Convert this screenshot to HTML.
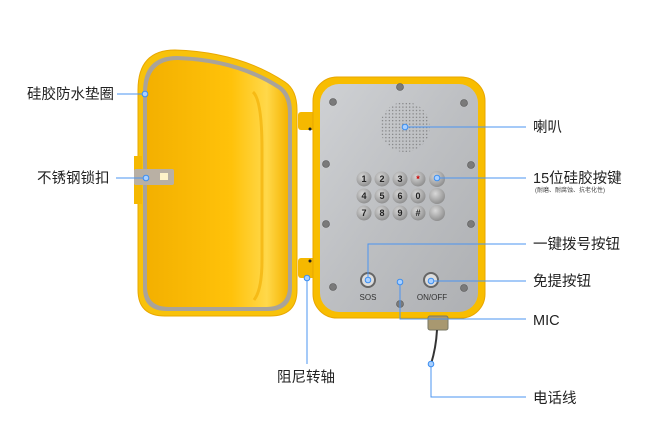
<!DOCTYPE html>
<html><head><meta charset="utf-8"><style>
html,body{margin:0;padding:0;background:#fff;width:650px;height:442px;overflow:hidden}
svg{display:block}
text{font-family:"Liberation Sans","Noto Sans CJK SC",sans-serif}
.l{font-size:14.5px;fill:#222}
</style></head><body>
<svg width="650" height="442" viewBox="0 0 650 442" xmlns="http://www.w3.org/2000/svg">
<defs>
<linearGradient id="steel" x1="0" y1="0" x2="1" y2="1">
<stop offset="0" stop-color="#cfd1d4"/><stop offset="0.5" stop-color="#bdbfc2"/><stop offset="1" stop-color="#aeb0b3"/>
</linearGradient>
<linearGradient id="inner" x1="0" y1="0" x2="1" y2="0">
<stop offset="0" stop-color="#f3b000"/><stop offset="0.6" stop-color="#ffc20a"/><stop offset="0.85" stop-color="#ffd84a"/><stop offset="1" stop-color="#f5b400"/>
</linearGradient>
<radialGradient id="key" cx="0.4" cy="0.35" r="0.7">
<stop offset="0" stop-color="#d8d8d8"/><stop offset="1" stop-color="#8a8a8a"/>
</radialGradient>
<pattern id="holes" width="3.4" height="3.4" patternUnits="userSpaceOnUse">
<circle cx="1.7" cy="1.7" r="0.6" fill="#555"/>
</pattern>
</defs>

<!-- left door -->
<path d="M138,90 Q138,50 175,50 Q240,52 285,82 Q297,90 297,110 L297,290 Q297,316 270,316 L165,316 Q138,316 138,290 Z" fill="#f8c20a" stroke="#e9a800" stroke-width="1"/>
<path d="M143,92 Q143,56 177,56 Q238,58 281,86 Q292,94 292,112 L292,288 Q292,311 268,311 L167,311 Q143,311 143,288 Z" fill="#a9a39a"/>
<path d="M147,94 Q147,60 178,60 Q236,62 278,89 Q288,96 288,114 L288,286 Q288,307 266,307 L169,307 Q147,307 147,286 Z" fill="url(#inner)"/>
<path d="M253,92 Q262,100 262,150 L262,260 Q262,290 254,300" fill="none" stroke="#f0ac00" stroke-width="3" opacity="0.6"/>
<!-- latch -->
<rect x="134" y="156" width="8" height="48" fill="#f5b800"/>
<rect x="134" y="169" width="40" height="16" rx="2" fill="#b9b0a4"/>
<rect x="160" y="173" width="8" height="7" fill="#fff3c8"/>
<!-- hinges -->
<rect x="298" y="112" width="20" height="18" rx="3" fill="#f5b800"/>
<rect x="298" y="258" width="20" height="20" rx="3" fill="#f5b800"/>
<circle cx="310" cy="129" r="1.5" fill="#222"/>
<circle cx="310" cy="261" r="1.5" fill="#222"/>

<!-- right phone -->
<rect x="313" y="77" width="172" height="241" rx="24" fill="#f8bd00" stroke="#e8a600"/>
<rect x="320" y="84" width="158" height="228" rx="19" fill="url(#steel)"/>
<!-- screws -->
<g fill="#7a7a7a" stroke="#555" stroke-width="0.6">
<circle cx="400" cy="87" r="3.5"/><circle cx="333" cy="102" r="3.5"/><circle cx="464" cy="103" r="3.5"/>
<circle cx="326" cy="164" r="3.5"/><circle cx="471" cy="165" r="3.5"/>
<circle cx="326" cy="224" r="3.5"/><circle cx="471" cy="224" r="3.5"/>
<circle cx="333" cy="287" r="3.5"/><circle cx="464" cy="288" r="3.5"/>
<circle cx="400" cy="304" r="3.5"/>
</g>
<!-- speaker -->
<circle cx="405" cy="127" r="25" fill="url(#holes)" opacity="0.8"/>
<!-- keypad -->
<g font-size="9" text-anchor="middle" font-weight="bold" fill="#222">
<g>
<circle cx="364" cy="179" r="7.5" fill="url(#key)"/><circle cx="382" cy="179" r="7.5" fill="url(#key)"/><circle cx="400" cy="179" r="7.5" fill="url(#key)"/><circle cx="418" cy="179" r="7.5" fill="url(#key)"/>
<circle cx="364" cy="196" r="7.5" fill="url(#key)"/><circle cx="382" cy="196" r="7.5" fill="url(#key)"/><circle cx="400" cy="196" r="7.5" fill="url(#key)"/><circle cx="418" cy="196" r="7.5" fill="url(#key)"/>
<circle cx="364" cy="213" r="7.5" fill="url(#key)"/><circle cx="382" cy="213" r="7.5" fill="url(#key)"/><circle cx="400" cy="213" r="7.5" fill="url(#key)"/><circle cx="418" cy="213" r="7.5" fill="url(#key)"/>
<circle cx="437" cy="179" r="8" fill="url(#key)"/><circle cx="437" cy="196" r="8" fill="url(#key)"/><circle cx="437" cy="213" r="8" fill="url(#key)"/>
</g>
<text x="364" y="182">1</text><text x="382" y="182">2</text><text x="400" y="182">3</text><text x="418" y="182" fill="#c00">*</text>
<text x="364" y="199">4</text><text x="382" y="199">5</text><text x="400" y="199">6</text><text x="418" y="199">0</text>
<text x="364" y="216">7</text><text x="382" y="216">8</text><text x="400" y="216">9</text><text x="418" y="216">#</text>
</g>
<!-- buttons -->
<circle cx="368" cy="280" r="7" fill="#ddd" stroke="#666" stroke-width="2"/>
<circle cx="431" cy="280" r="7" fill="#ddd" stroke="#666" stroke-width="2"/>
<circle cx="400" cy="281" r="1.5" fill="#222"/>
<text x="368" y="300" font-size="8" text-anchor="middle" fill="#333">SOS</text>
<text x="432" y="300" font-size="8" text-anchor="middle" fill="#333">ON/OFF</text>
<!-- gland & cable -->
<rect x="428" y="316" width="20" height="14" rx="2" fill="#a89870" stroke="#776"/>
<path d="M437,330 Q436,348 431,364" fill="none" stroke="#333" stroke-width="2"/>

<!-- leader lines -->
<g stroke="#4b94f0" stroke-width="1" fill="none">
<path d="M117,94H145"/><path d="M116,178H146"/><path d="M307,278V364"/>
<path d="M405,127H526"/><path d="M437,178H526"/><path d="M368,280V244H526"/>
<path d="M431,281H526"/><path d="M400,282V319H526"/><path d="M431,364V397H526"/>
</g>
<g fill="#a9d0ff" stroke="#3c8ef0" stroke-width="1">
<circle cx="145" cy="94" r="2.8"/><circle cx="146" cy="178" r="2.8"/><circle cx="307" cy="278" r="2.8"/>
<circle cx="405" cy="127" r="2.8"/><circle cx="437" cy="178" r="2.8"/><circle cx="368" cy="280" r="2.8"/>
<circle cx="431" cy="281" r="2.8"/><circle cx="400" cy="282" r="2.8"/><circle cx="431" cy="364" r="2.8"/>
</g>

<!-- labels -->
<text class="l" x="27" y="99">硅胶防水垫圈</text>
<text class="l" x="37" y="183">不锈钢锁扣</text>
<text class="l" x="277" y="382">阻尼转轴</text>
<text class="l" x="533" y="132">喇叭</text>
<text class="l" x="533" y="183">15位硅胶按键</text>
<text x="535" y="192" font-size="6" fill="#444">(耐磨、耐腐蚀、抗老化性)</text>
<text class="l" x="533" y="249">一键拨号按钮</text>
<text class="l" x="533" y="286">免提按钮</text>
<text class="l" x="533" y="325">MIC</text>
<text class="l" x="533" y="403">电话线</text>
</svg>
</body></html>
